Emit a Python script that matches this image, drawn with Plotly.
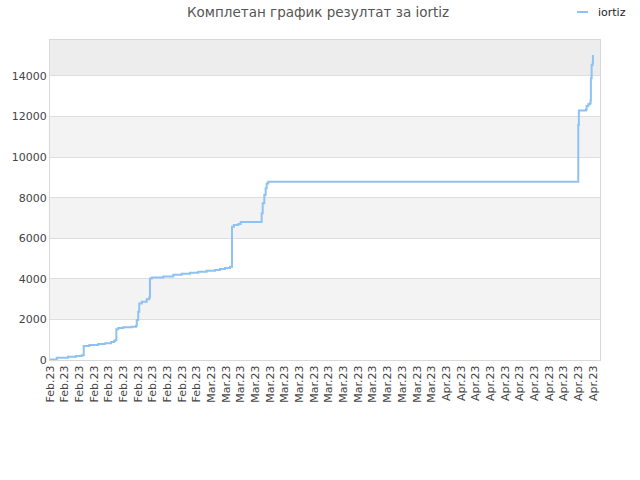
import plotly.graph_objects as go

# Tick labels (categorical dates shown along the x axis)
tick_labels = ["Feb.23"] * 11 + ["Mar.23"] * 16 + ["Apr.23"] * 11

# Cumulative results (step positions in tick units, values)
step_x = [0, 0.46, 1.23, 1.77, 2.16, 2.30, 2.68, 3.29, 3.75, 4.16, 4.36, 4.45,
          4.52, 4.65, 4.99, 5.57, 5.86, 5.91, 6.01, 6.08, 6.25, 6.59, 6.76,
          6.81, 6.93, 7.72, 8.40, 8.97, 9.54, 10.10, 10.67, 11.24, 11.58,
          11.92, 12.26, 12.40, 12.53, 12.83, 12.99, 14.42, 14.49, 14.60,
          14.69, 14.76, 14.87, 14.99, 35.99, 36.03, 36.51, 36.56, 36.67,
          36.78, 36.83, 36.85, 36.90, 36.97, 36.99]
step_y = [30, 110, 160, 200, 240, 690, 740, 790, 830, 890, 940, 990,
          1520, 1580, 1610, 1640, 1690, 1970, 2380, 2790, 2870, 2990, 3080,
          4020, 4070, 4120, 4200, 4250, 4300, 4350, 4400, 4440, 4480,
          4530, 4600, 6570, 6650, 6700, 6800, 7230, 7720, 8130,
          8460, 8700, 8790, 8790, 11580, 12290, 12350, 12520, 12600,
          12650, 12810, 13880, 14540, 14650, 15030]

y_ticks = [0, 2000, 4000, 6000, 8000, 10000, 12000, 14000]
Y_MAX = 15770
LINE_COLOR = '#8ec2f2'

fig = go.Figure()

fig.add_trace(go.Scatter(
    x=step_x, y=step_y,
    mode='lines',
    line=dict(color=LINE_COLOR, width=2, shape='hv'),
    name='iortiz',
    showlegend=False
))

# Alternating horizontal bands
bands = [(2000, 4000, '#f3f3f3'), (6000, 8000, '#f3f3f3'),
         (10000, 12000, '#f3f3f3'), (14000, Y_MAX, '#ededed')]
for y0, y1, col in bands:
    fig.add_shape(type='rect', xref='paper', yref='y', x0=0, x1=1, y0=y0, y1=y1,
                  fillcolor=col, line=dict(width=0), layer='below')

# Legend drawn by hand (short line sample + name)
fig.add_shape(type='line', xref='paper', yref='paper',
              x0=(577 - 50) / 550, x1=(588 - 50) / 550,
              y0=(360 - 12) / 320, y1=(360 - 12) / 320,
              line=dict(color=LINE_COLOR, width=2))
fig.add_annotation(text='iortiz', xref='paper', yref='paper',
                   x=(596 - 50) / 550, y=(360 - 12) / 320,
                   xanchor='left', yanchor='middle', showarrow=False,
                   font=dict(size=11, color='#222'))

fig.update_layout(
    width=640, height=480,
    margin=dict(l=50, r=40, t=40, b=120, autoexpand=False),
    paper_bgcolor='white',
    plot_bgcolor='white',
    font=dict(family='DejaVu Sans', size=11, color='#444'),
    title=dict(text='Комплетан график резултат за iortiz',
               x=0.497, xref='container', xanchor='center',
               y=0.975, yref='container', yanchor='middle',
               font=dict(size=13.5, color='#555')),
    showlegend=False,
    xaxis=dict(range=[0, 37.47], tickvals=list(range(len(tick_labels))),
               ticktext=tick_labels, tickangle=-90, showgrid=False,
               zeroline=False, showline=True, linecolor='#d8d8d8', mirror=True,
               ticks='', tickfont=dict(size=11, color='#444')),
    yaxis=dict(range=[0, Y_MAX], tickvals=y_ticks, showgrid=True,
               gridcolor='#dedede', zeroline=False, showline=True,
               linecolor='#d8d8d8', mirror=True, ticks='',
               tickformat='d', tickfont=dict(size=11, color='#444')),
)

# la page par défaut a une marge de 8px sur le body
fig.write_html("out.html", config={'displayModeBar': False},
               post_script="document.body.style.margin='0';")
